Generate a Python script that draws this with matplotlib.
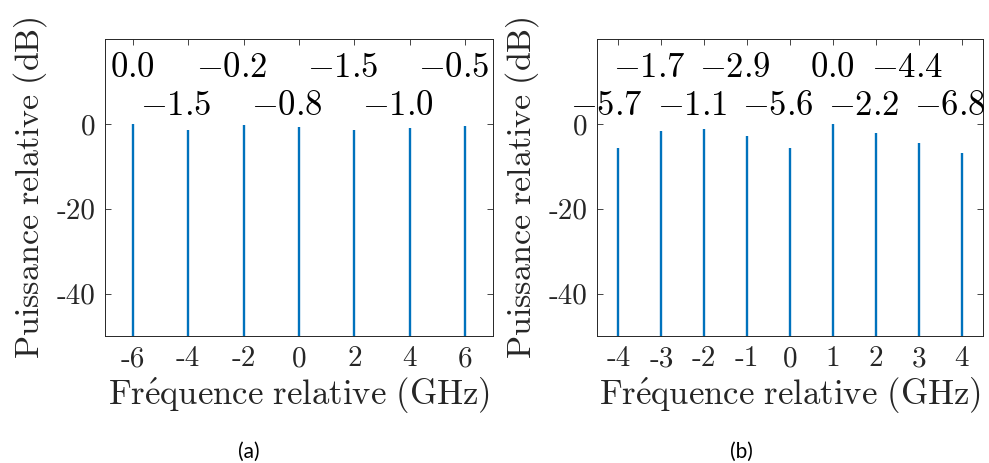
import matplotlib
matplotlib.use("Agg")
import matplotlib.pyplot as plt

plt.rcParams['mathtext.fontset'] = 'cm'
plt.rcParams['font.family'] = ['cmr10', 'DejaVu Serif']
plt.rcParams['axes.unicode_minus'] = False

# Panel (a)
freq_a = [-6, -4, -2, 0, 2, 4, 6]
power_a = [0.0, -1.5, -0.2, -0.8, -1.5, -1.0, -0.5]
row_a = [1, 0, 1, 0, 1, 0, 1]  # 1 = upper row of labels
xticks_a = [-6, -4, -2, 0, 2, 4, 6]

# Panel (b)
freq_b = [-4, -3, -2, -1, 0, 1, 2, 3, 4]
power_b = [-5.7, -1.7, -1.1, -2.9, -5.6, 0.0, -2.2, -4.4, -6.8]
row_b = [0, 1, 0, 1, 0, 1, 0, 1, 0]
xticks_b = [-4, -3, -2, -1, 0, 1, 2, 3, 4]

yticks = [-40, -20, 0]
ylim = (-50, 20)

blue = '#0072BD'
dark = '#262626'

W, H = 989, 463
fig = plt.figure(figsize=(W / 100, H / 100), dpi=100)

def px_axes(l, t, r, b):
    return fig.add_axes([l / W, 1 - b / H, (r - l) / W, (b - t) / H])

ax_a = px_axes(105, 39, 493, 336)
ax_b = px_axes(597, 39, 983, 336)

panels = [
    (ax_a, freq_a, power_a, row_a, xticks_a, (-7, 7), '(a)', 249),
    (ax_b, freq_b, power_b, row_b, xticks_b, (-4.5, 4.5), '(b)', 741),
]

for ax, fr, pw, rows, xt, xl, cap, capx in panels:
    ax.vlines(fr, ylim[0] - 10, pw, color=blue, linewidth=1.7)
    ax.set_xlim(*xl)
    ax.set_ylim(*ylim)
    ax.set_xticks(xt)
    ax.set_xticklabels([str(v) for v in xt])
    ax.set_yticks(yticks)
    ax.set_yticklabels([str(v) for v in yticks])
    ax.tick_params(direction='in', length=4, width=0.6, top=True, right=True,
                   labelsize=21, colors=dark, pad=7)
    for s in ax.spines.values():
        s.set_color(dark)
        s.set_linewidth(0.7)
    ax.set_xlabel(r"$\mathrm{Fr\'equence\ relative\ (GHz)}$", fontsize=25,
                  color=dark, labelpad=3)
    ax.set_ylabel(r"$\mathrm{Puissance\ relative\ (dB)}$", fontsize=24.5,
                  color=dark, labelpad=5)
    for f, p, r in zip(fr, pw, rows):
        y = 11.1 if r else 2.1
        dx = -8.6 if p < 0 else 0
        ax.annotate(f"${p:.1f}$", (f, y), xytext=(dx, 0),
                    textcoords='offset points', ha='center', va='baseline',
                    fontsize=25, color='black', annotation_clip=False)
    fig.text(capx / W, 1 - 452 / H, cap, ha='center', va='center',
             fontsize=15, family='Lato', color='black')

fig.savefig('out.png', dpi=100)
